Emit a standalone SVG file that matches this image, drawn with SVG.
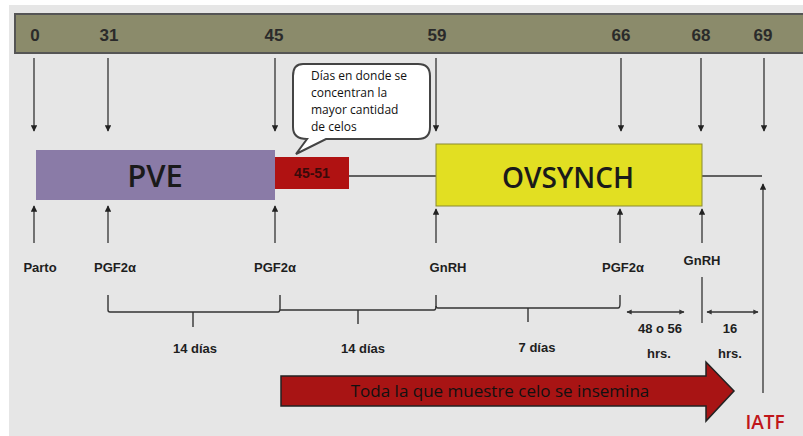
<svg xmlns="http://www.w3.org/2000/svg" width="803" height="436" viewBox="0 0 803 436">
<defs>
<marker id="ah" viewBox="0 0 10 10" refX="9" refY="5" markerWidth="5" markerHeight="5" orient="auto-start-reverse"><path d="M0,0 L10,5 L0,10 z" fill="#222"/></marker>
<marker id="ah2" viewBox="0 0 10 10" refX="9" refY="5" markerWidth="4" markerHeight="4" orient="auto-start-reverse"><path d="M0,0 L10,5 L0,10 z" fill="#333"/></marker>
<style>
.num{font-family:"Liberation Sans",Arial,sans-serif;font-weight:bold;font-size:17px;fill:#2a2a2a;text-anchor:middle}
.lbl{font-family:"Liberation Sans",Arial,sans-serif;font-weight:bold;font-size:13px;fill:#1e1e1e;text-anchor:middle}
.ln{stroke:#333;stroke-width:1.3;fill:none}
.arr{stroke:#333;stroke-width:1.3;fill:none;marker-end:url(#ah)}
.br{stroke:#333;stroke-width:1.4;fill:none}
.call{font-family:"Open Sans","Liberation Sans",sans-serif;font-size:12px;fill:#111}
</style>
</defs>
<rect x="0" y="0" width="803" height="436" fill="#ffffff"/>
<rect x="9" y="5" width="794" height="431" fill="#e6e6e6"/>
<g id="timeline">
<rect x="15" y="14" width="800" height="39" fill="#8b8b6b" stroke="#555" stroke-width="2"/>
<text class="num" x="35" y="41">0</text>
<text class="num" x="109" y="41">31</text>
<text class="num" x="274" y="41">45</text>
<text class="num" x="437" y="41">59</text>
<text class="num" x="621" y="41">66</text>
<text class="num" x="701" y="41">68</text>
<text class="num" x="763" y="41">69</text>
</g>
<g id="connectors">
<line class="arr" x1="34" y1="58" x2="34" y2="131"/>
<line class="arr" x1="108" y1="58" x2="108" y2="131"/>
<line class="arr" x1="275" y1="58" x2="275" y2="131"/>
<line class="arr" x1="436" y1="58" x2="436" y2="131"/>
<line class="arr" x1="621" y1="58" x2="621" y2="131"/>
<line class="arr" x1="701" y1="58" x2="701" y2="131"/>
<line class="arr" x1="764" y1="58" x2="764" y2="131"/>
<line class="ln" x1="349" y1="176" x2="436" y2="176"/>
<line class="ln" x1="702" y1="176" x2="762" y2="176"/>
<line class="arr" x1="34" y1="243" x2="34" y2="206"/>
<line class="arr" x1="108" y1="243" x2="108" y2="206"/>
<line class="arr" x1="275" y1="243" x2="275" y2="206"/>
<line class="arr" x1="436" y1="243" x2="436" y2="209"/>
<line class="arr" x1="620" y1="243" x2="620" y2="209"/>
<line class="arr" x1="702" y1="243" x2="702" y2="209"/>
<line class="arr" x1="763" y1="393" x2="763" y2="184"/>
<line class="ln" x1="702" y1="277" x2="702" y2="323"/>
<path class="br" d="M108,295 V310 Q108,312 110,312 H278 Q280,312 280,308 V295"/>
<path class="br" d="M193,312 V327"/>
<path class="br" d="M280,310 H434 Q436,310 436,306 V295"/>
<path class="br" d="M358,310 V324"/>
<path class="br" d="M436,306 Q436,308 438,308 H618 Q620,308 620,304 V295"/>
<path class="br" d="M528,308 V322"/>
<line stroke="#333" stroke-width="1.3" marker-start="url(#ah2)" marker-end="url(#ah2)" x1="627" y1="312" x2="684" y2="312"/>
<line stroke="#333" stroke-width="1.3" marker-start="url(#ah2)" marker-end="url(#ah2)" x1="707" y1="312" x2="758" y2="312"/>
</g>
<g id="pve">
<rect x="36" y="150" width="239" height="50" fill="#8a7ba7"/>
<text x="155" y="187" font-family="'Open Sans','Liberation Sans',sans-serif" font-weight="600" font-size="31" fill="#1a1a1a" text-anchor="middle">PVE</text>
</g>
<g id="range">
<rect x="275" y="157" width="74" height="32" fill="#b01212"/>
<text x="312" y="178" font-family="'Liberation Sans',Arial,sans-serif" font-weight="bold" font-size="14" fill="#3a0a0a" text-anchor="middle">45-51</text>
</g>
<g id="callout">
<path d="M303,64 H418 Q430,64 430,76 V127 Q430,139 418,139 H326 L296,154 L307,139 Q293,139 293,127 V76 Q293,64 303,64 Z" fill="#fff" stroke="#444" stroke-width="2"/>
<text class="call" x="311" y="80">Días en donde se</text>
<text class="call" x="311" y="97">concentran la</text>
<text class="call" x="311" y="114">mayor cantidad</text>
<text class="call" x="311" y="131">de celos</text>
</g>
<g id="ovsynch">
<rect x="436" y="144" width="266" height="62" fill="#e2df22" stroke="#8a8a30" stroke-width="1"/>
<text x="568" y="188" font-family="'Open Sans','Liberation Sans',sans-serif" font-weight="600" font-size="28" fill="#1a1a1a" text-anchor="middle">OVSYNCH</text>
</g>
<g id="labels">
<text class="lbl" x="40" y="272">Parto</text>
<text class="lbl" x="115" y="272">PGF2α</text>
<text class="lbl" x="275" y="272">PGF2α</text>
<text class="lbl" x="448" y="272">GnRH</text>
<text class="lbl" x="623" y="272">PGF2α</text>
<text class="lbl" x="702" y="265">GnRH</text>
<text class="lbl" x="195" y="353">14 días</text>
<text class="lbl" x="363" y="353">14 días</text>
<text class="lbl" x="537" y="352">7 días</text>
<text class="lbl" x="660" y="333">48 o 56</text>
<text class="lbl" x="659" y="358">hrs.</text>
<text class="lbl" x="730" y="333">16</text>
<text class="lbl" x="730" y="358">hrs.</text>
</g>
<g id="insemina">
<path d="M281,376 H706 V362 L734,391 L706,421 V406 H281 Z" fill="#a81414" stroke="#222" stroke-width="1.5"/>
<text x="500" y="397" font-family="'Open Sans','Liberation Sans',sans-serif" font-size="17" fill="#111" text-anchor="middle">Toda la que muestre celo se insemina</text>
</g>
<g id="iatf">
<text x="765" y="429" font-family="'Open Sans','Liberation Sans',sans-serif" font-weight="600" font-size="19" fill="#c0161a" text-anchor="middle">IATF</text>
</g>
</svg>
